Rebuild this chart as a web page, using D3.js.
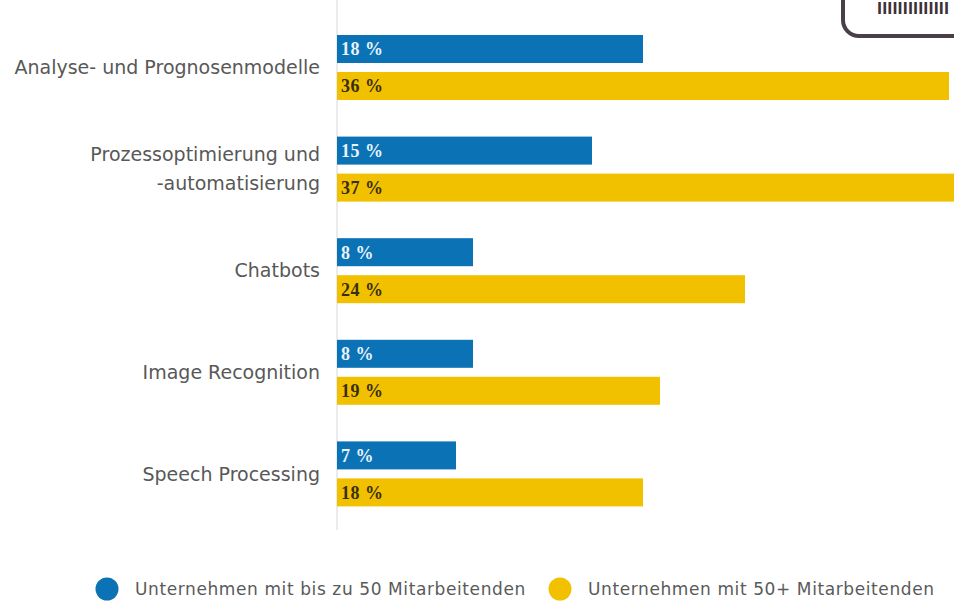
<!DOCTYPE html>
<html>
<head>
<meta charset="utf-8">
<script src="https://cdn.jsdelivr.net/npm/d3@7/dist/d3.min.js"></script>
<style>
  html, body { margin: 0; padding: 0; background: #fff; overflow: hidden; }
  svg { display: block; }
</style>
</head>
<body>
<div id="chart"></div>
<script>
// KI-Anwendungen nach Unternehmensgröße (Anteil in %)
const categories = [
  ["Analyse- und Prognosenmodelle"],
  ["Prozessoptimierung und", "-automatisierung"],
  ["Chatbots"],
  ["Image Recognition"],
  ["Speech Processing"]
];
const seriesNames = [
  "Unternehmen mit bis zu 50 Mitarbeitenden",
  "Unternehmen mit 50+ Mitarbeitenden"
];
const smallCompanies = [18, 15, 8, 8, 7];
const largeCompanies = [36, 37, 24, 19, 18];
const seriesColors = ["#0b72b6", "#f1c100"];
const labelColors = ["#e8f3fb", "#3a2e10"];

const width = 954, height = 601;

const svg = d3.select("#chart").append("svg")
  .attr("width", width)
  .attr("height", height);

const keys = categories.map((c) => c.join(" "));

const x = d3.scaleLinear().domain([0, 36]).range([337, 949]);

const y = d3.scaleBand()
  .domain(keys)
  .range([16.7, 524.7])
  .padding(0);

const inner = d3.scaleBand()
  .domain([0, 1])
  .range([-32.5, 32.5])
  .paddingInner(0.243);

// vertical baseline
svg.append("line")
  .attr("x1", x(0)).attr("x2", x(0))
  .attr("y1", 0).attr("y2", 530)
  .attr("stroke", "#e4e4e4")
  .attr("stroke-width", 1.5);

const rows = keys.map((k, i) => ({
  key: k,
  lines: categories[i],
  values: [smallCompanies[i], largeCompanies[i]]
}));

const group = svg.selectAll(".row")
  .data(rows)
  .join("g")
  .attr("class", "row")
  .attr("transform", (d) => `translate(0,${y(d.key) + y.bandwidth() / 2})`);

group.selectAll("rect")
  .data((d) => d.values.map((v, s) => ({ v, s })))
  .join("rect")
  .attr("x", x(0))
  .attr("y", (d) => inner(d.s))
  .attr("width", (d) => x(d.v) - x(0))
  .attr("height", inner.bandwidth())
  .attr("fill", (d) => seriesColors[d.s]);

group.selectAll(".val")
  .data((d) => d.values.map((v, s) => ({ v, s })))
  .join("text")
  .attr("class", "val")
  .attr("x", x(0) + 4)
  .attr("y", (d) => inner(d.s) + inner.bandwidth() / 2)
  .attr("dy", "0.36em")
  .attr("fill", (d) => labelColors[d.s])
  .style("font-family", "'Liberation Serif', serif")
  .style("font-weight", "bold")
  .style("font-size", "18px")
  .style("letter-spacing", "0.5px")
  .text((d) => `${d.v} %`);

// category labels
group.append("text")
  .attr("text-anchor", "end")
  .attr("x", 320)
  .attr("fill", "#585858")
  .style("font-family", "'DejaVu Sans', sans-serif")
  .style("font-size", "19px")
  .selectAll("tspan")
  .data((d) => d.lines.map((t, j) => ({ t, j, n: d.lines.length })))
  .join("tspan")
  .attr("x", 320)
  .attr("y", (d) => (d.j - (d.n - 1) / 2) * 29)
  .attr("dy", "0.35em")
  .text((d) => d.t);

// legend
const legend = svg.append("g")
  .selectAll("g")
  .data(seriesNames)
  .join("g")
  .attr("transform", (d, i) => `translate(${[107, 560][i]},589)`);

legend.append("circle")
  .attr("r", 11.5)
  .attr("fill", (d, i) => seriesColors[i]);

legend.append("text")
  .attr("x", 28)
  .attr("dy", "0.35em")
  .attr("fill", "#5a5a5a")
  .style("font-family", "'DejaVu Sans', sans-serif")
  .style("font-size", "17px")
  .style("letter-spacing", "0.6px")
  .text((d) => d);

// partially visible badge in the top-right corner
const badge = svg.append("g");
badge.append("rect")
  .attr("x", 843).attr("y", -40)
  .attr("width", 160).attr("height", 76)
  .attr("rx", 16)
  .attr("fill", "#fff")
  .attr("stroke", "#4b3f47")
  .attr("stroke-width", 4);
badge.append("text")
  .attr("x", 877).attr("y", 14)
  .attr("fill", "#3c3238")
  .attr("textLength", 72)
  .attr("lengthAdjust", "spacing")
  .style("font-family", "'DejaVu Sans Condensed', sans-serif")
  .style("font-weight", "bold")
  .style("font-size", "15px")
  .text("IIIIIIIIIIIIII");
</script>
</body>
</html>
